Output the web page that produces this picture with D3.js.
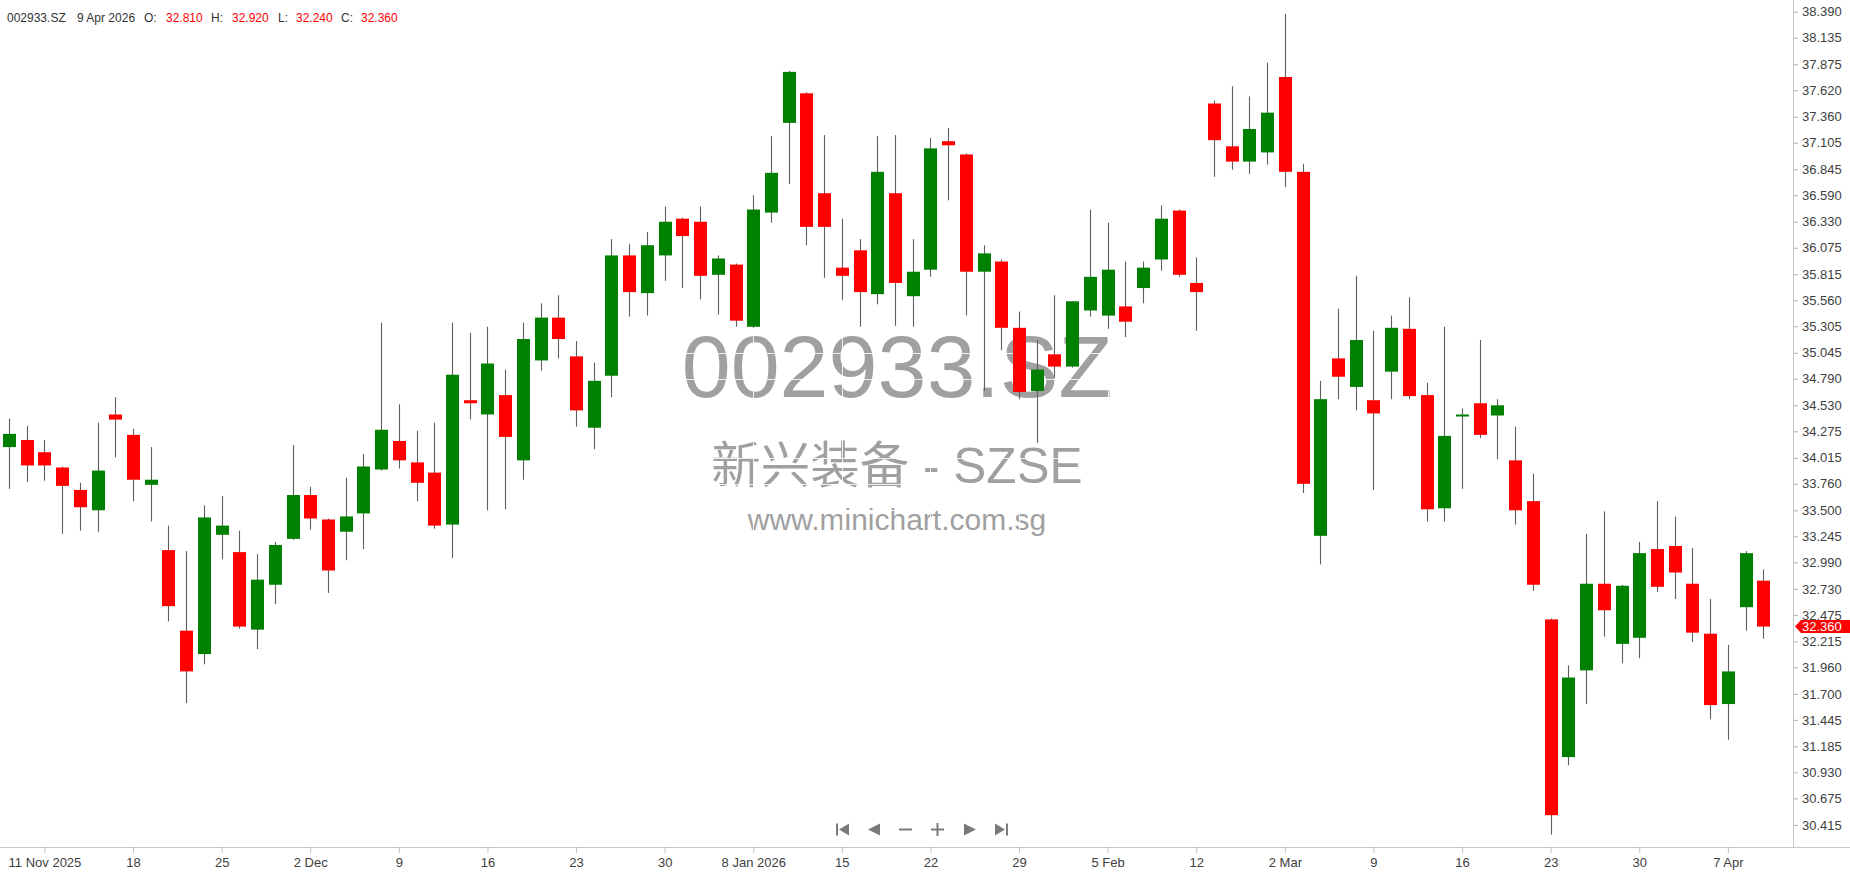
<!DOCTYPE html>
<html>
<head>
<meta charset="utf-8">
<script src="https://cdn.jsdelivr.net/npm/d3@7"></script>
<style>
  html, body { margin: 0; padding: 0; background: #ffffff; }
  svg { display: block; }
  text { font-family: "Liberation Sans", Arial, sans-serif; }
</style>
</head>
<body>
<div id="chart"></div>
<script>
// ---------------- data ----------------
const symbol = "002933.SZ";
const watermarkName = "新兴装备 - SZSE";
const watermarkSite = "www.minichart.com.sg";

const dates = [
  "2025-11-07","2025-11-10","2025-11-11","2025-11-12","2025-11-13","2025-11-14",
  "2025-11-17","2025-11-18","2025-11-19","2025-11-20","2025-11-21",
  "2025-11-24","2025-11-25","2025-11-26","2025-11-27","2025-11-28",
  "2025-12-01","2025-12-02","2025-12-03","2025-12-04","2025-12-05",
  "2025-12-08","2025-12-09","2025-12-10","2025-12-11","2025-12-12",
  "2025-12-15","2025-12-16","2025-12-17","2025-12-18","2025-12-19",
  "2025-12-22","2025-12-23","2025-12-24","2025-12-25","2025-12-26",
  "2025-12-29","2025-12-30","2025-12-31",
  "2026-01-05","2026-01-06","2026-01-07","2026-01-08","2026-01-09",
  "2026-01-12","2026-01-13","2026-01-14","2026-01-15","2026-01-16",
  "2026-01-19","2026-01-20","2026-01-21","2026-01-22","2026-01-23",
  "2026-01-26","2026-01-27","2026-01-28","2026-01-29","2026-01-30",
  "2026-02-02","2026-02-03","2026-02-04","2026-02-05","2026-02-06",
  "2026-02-09","2026-02-10","2026-02-11","2026-02-12","2026-02-13",
  "2026-02-25","2026-02-26","2026-02-27",
  "2026-03-02","2026-03-03","2026-03-04","2026-03-05","2026-03-06",
  "2026-03-09","2026-03-10","2026-03-11","2026-03-12","2026-03-13",
  "2026-03-16","2026-03-17","2026-03-18","2026-03-19","2026-03-20",
  "2026-03-23","2026-03-24","2026-03-25","2026-03-26","2026-03-27",
  "2026-03-30","2026-03-31",
  "2026-04-01","2026-04-02","2026-04-03","2026-04-07","2026-04-08","2026-04-09"
];

const opens = [
  34.12,34.19,34.07,33.92,33.70,33.50,34.44,34.24,33.75,33.11,
  32.32,32.09,33.26,33.09,32.33,32.77,33.22,33.65,33.41,33.29,
  33.47,33.90,34.18,33.97,33.87,33.36,34.58,34.44,34.63,33.99,
  34.97,35.39,35.01,34.31,34.82,36.00,35.63,36.00,36.36,36.33,
  35.81,35.91,35.30,36.42,37.30,37.59,36.61,35.88,36.05,35.62,
  36.61,35.60,35.86,37.12,36.99,35.84,35.94,35.29,34.67,35.03,
  34.91,35.46,35.41,35.50,35.68,35.96,36.44,35.73,37.49,37.07,
  36.92,37.01,37.75,36.82,33.25,34.99,34.71,34.58,34.86,35.28,
  34.63,33.52,34.42,34.55,34.43,33.99,33.59,32.43,31.08,31.93,
  32.78,32.19,32.25,33.12,33.15,32.78,32.29,31.60,32.55,32.81
];
const highs = [
  34.40,34.33,34.19,33.93,33.77,34.36,34.61,34.30,34.12,33.35,
  33.10,33.55,33.64,33.30,33.07,33.19,34.14,33.73,33.42,33.82,
  34.05,35.34,34.54,34.28,34.36,35.34,35.24,35.30,34.88,35.34,
  35.53,35.61,35.16,34.95,36.16,36.11,36.23,36.48,36.37,36.48,
  36.00,35.92,36.59,37.17,37.81,37.60,37.18,36.36,36.16,37.17,
  37.18,36.16,37.15,37.25,37.00,36.10,35.96,35.45,35.17,35.61,
  35.55,36.45,36.32,35.94,35.94,36.49,36.45,35.98,37.52,37.66,
  37.56,37.89,38.37,36.90,34.77,35.48,35.80,35.26,35.41,35.59,
  34.75,35.30,34.50,35.17,34.59,34.32,33.86,32.44,31.98,33.27,
  33.49,32.77,33.19,33.59,33.44,33.13,32.63,32.18,33.10,32.92
];
const lows = [
  33.71,33.78,33.79,33.27,33.30,33.29,34.02,33.59,33.39,32.41,
  31.61,31.99,33.02,32.34,32.14,32.58,33.21,33.31,32.69,33.01,
  33.12,33.89,33.91,33.59,33.32,33.03,34.39,33.50,33.51,33.80,
  34.87,34.99,34.32,34.10,34.61,35.40,35.41,35.75,35.68,35.57,
  35.42,35.30,35.29,36.32,36.70,36.10,35.78,35.56,35.30,35.52,
  35.31,35.30,35.79,36.54,35.41,34.67,35.07,34.59,34.16,34.80,
  34.90,35.40,35.28,35.20,35.53,35.85,35.79,35.26,36.77,36.84,
  36.80,36.89,36.67,33.67,32.97,34.59,34.48,33.70,34.59,34.59,
  33.39,33.39,33.71,34.21,34.00,33.36,32.71,30.32,31.00,31.60,
  32.26,32.00,32.05,32.70,32.63,32.21,31.45,31.25,32.32,32.24
];
const closes = [
  34.25,33.94,33.94,33.74,33.53,33.89,34.39,33.80,33.80,32.56,
  31.92,33.43,33.35,32.36,32.82,33.16,33.65,33.42,32.91,33.44,
  33.93,34.29,33.99,33.77,33.35,34.83,34.55,34.94,34.22,35.18,
  35.39,35.18,34.48,34.77,36.00,35.64,36.10,36.33,36.19,35.80,
  35.97,35.36,36.45,36.81,37.80,36.28,36.28,35.80,35.64,36.82,
  35.73,35.84,37.05,37.08,35.84,36.02,35.29,34.66,34.88,34.91,
  35.55,35.79,35.86,35.35,35.88,36.36,35.81,35.64,37.13,36.92,
  37.24,37.40,36.82,33.76,34.59,34.81,35.17,34.45,35.29,34.62,
  33.51,34.23,34.44,34.24,34.53,33.50,32.77,30.51,31.86,32.78,
  32.52,32.76,33.08,32.75,32.89,32.30,31.59,31.92,33.08,32.36
];

const yTickLabels = [
  "38.390","38.135","37.875","37.620","37.360","37.105","36.845","36.590",
  "36.330","36.075","35.815","35.560","35.305","35.045","34.790","34.530",
  "34.275","34.015","33.760","33.500","33.245","32.990","32.730","32.475",
  "32.215","31.960","31.700","31.445","31.185","30.930","30.675","30.415"
];
const xTickDates = [
  "2025-11-11","2025-11-18","2025-11-25","2025-12-02","2025-12-09","2025-12-16",
  "2025-12-23","2025-12-30","2026-01-08","2026-01-15","2026-01-22","2026-01-29",
  "2026-02-05","2026-02-12","2026-03-02","2026-03-09","2026-03-16","2026-03-23",
  "2026-03-30","2026-04-07"
];
const xTickLabels = [
  "11 Nov 2025","18","25","2 Dec","9","16","23","30","8 Jan 2026","15",
  "22","29","5 Feb","12","2 Mar","9","16","23","30","7 Apr"
];

// ---------------- layout ----------------
const W = 1850, H = 874;
const plotRight = 1793, plotBottom = 847;
const n = dates.length;

const svg = d3.select("#chart").append("svg")
  .attr("width", W).attr("height", H)
  .style("background", "#ffffff");

const x = d3.scaleLinear().domain([0, n - 1]).range([9, 9 + (n - 1) * 17.72]);
const y = d3.scaleLinear().domain([30.198, 38.505]).range([plotBottom, 0]);

// ---------------- watermark ----------------
const wm = svg.append("g").attr("fill", "#a0a0a0")
  .attr("text-anchor", "middle");
wm.append("text").attr("x", 897).attr("y", 397)
  .style("font-size", "88px").text(symbol);
wm.append("text").attr("x", 897).attr("y", 483)
  .style("font-family", "'Liberation Sans', Arial, 'Noto Sans CJK SC', sans-serif")
  .style("font-size", "49.5px").text(watermarkName);
wm.append("text").attr("x", 897).attr("y", 530)
  .style("font-size", "30px").text(watermarkSite);

// white grid lines (only visible over the watermark)
const tickIdx = xTickDates.map(d => dates.indexOf(d));
const grid = svg.append("g").attr("stroke", "#ffffff").attr("stroke-width", 1).attr("opacity", 0.85);
grid.selectAll("line.gy").data(yTickLabels).enter().append("line")
  .attr("x1", 0).attr("x2", plotRight)
  .attr("y1", d => Math.round(y(+d)) + 0.5).attr("y2", d => Math.round(y(+d)) + 0.5);
grid.selectAll("line.gx").data(tickIdx).enter().append("line")
  .attr("y1", 0).attr("y2", plotBottom)
  .attr("x1", d => Math.round(x(d)) + 0.5).attr("x2", d => Math.round(x(d)) + 0.5);

// ---------------- candles ----------------
const candles = d3.range(n).map(i => ({
  i, date: dates[i], o: opens[i], h: highs[i], l: lows[i], c: closes[i]
}));
const cg = svg.append("g");
cg.selectAll("line.wick").data(candles).enter().append("line")
  .attr("class", "wick")
  .attr("x1", d => Math.round(x(d.i)) + 0.5)
  .attr("x2", d => Math.round(x(d.i)) + 0.5)
  .attr("y1", d => y(d.h)).attr("y2", d => y(d.l))
  .attr("stroke", "#5f5f5f").attr("stroke-width", 1.1);
const bodyW = 13;
cg.selectAll("rect.body").data(candles).enter().append("rect")
  .attr("class", "body")
  .attr("x", d => Math.round(x(d.i)) + 0.5 - bodyW / 2)
  .attr("width", bodyW)
  .attr("y", d => Math.min(y(d.o), y(d.c)))
  .attr("height", d => Math.max(2, Math.abs(y(d.o) - y(d.c))))
  .attr("fill", d => d.c >= d.o ? "#008000" : "#ff0000");

// ---------------- axes ----------------
svg.append("line").attr("x1", plotRight + 0.5).attr("x2", plotRight + 0.5)
  .attr("y1", 0).attr("y2", plotBottom).attr("stroke", "#c8c8c8");
svg.append("line").attr("x1", 0).attr("x2", W)
  .attr("y1", plotBottom + 0.5).attr("y2", plotBottom + 0.5).attr("stroke", "#c8c8c8");

const yAxis = d3.axisRight(y)
  .tickValues(yTickLabels.map(Number))
  .tickFormat(d3.format(".3f"))
  .tickSize(4).tickPadding(4);
const yg = svg.append("g").attr("transform", `translate(${plotRight + 1},0)`).call(yAxis);
yg.select(".domain").remove();
yg.selectAll(".tick line").attr("stroke", "#b0b0b0");
yg.selectAll(".tick text").attr("fill", "#404040")
  .style("font-size", "13px").style("font-family", "'Liberation Sans', Arial, sans-serif");

const xAxis = d3.axisBottom(x)
  .tickValues(tickIdx)
  .tickFormat((d, i) => xTickLabels[i])
  .tickSize(6).tickPadding(5);
const xg = svg.append("g").attr("transform", `translate(0,${plotBottom})`).call(xAxis);
xg.select(".domain").remove();
xg.selectAll(".tick line").attr("stroke", "#c0c0c0");
xg.selectAll(".tick text").attr("fill", "#404040")
  .style("font-size", "13px").style("font-family", "'Liberation Sans', Arial, sans-serif");

// ---------------- last price marker ----------------
const last = candles[n - 1];
const ly = y(last.c);
svg.append("path")
  .attr("d", `M${plotRight + 2},${ly} L${plotRight + 8},${ly - 6.5} L${W},${ly - 6.5} L${W},${ly + 6.5} L${plotRight + 8},${ly + 6.5} Z`)
  .attr("fill", "#ff0000");
svg.append("text").attr("x", plotRight + 9).attr("y", ly + 4.5)
  .attr("fill", "#ffffff").style("font-size", "13px")
  .text(d3.format(".3f")(last.c));

// ---------------- header ----------------
const fmtHeaderDate = d3.timeFormat("%-d %b %Y");
const parse = d3.timeParse("%Y-%m-%d");
const hdr = svg.append("g").style("font-size", "12px");
const hdrItems = [
  {t: symbol, x: 7, c: "#333333"},
  {t: fmtHeaderDate(parse(last.date)), x: 77, c: "#333333"},
  {t: "O:", x: 144, c: "#333333"},
  {t: d3.format(".3f")(last.o), x: 166, c: "#ff0000"},
  {t: "H:", x: 211, c: "#333333"},
  {t: d3.format(".3f")(last.h), x: 232, c: "#ff0000"},
  {t: "L:", x: 278, c: "#333333"},
  {t: d3.format(".3f")(last.l), x: 296, c: "#ff0000"},
  {t: "C:", x: 341, c: "#333333"},
  {t: d3.format(".3f")(last.c), x: 361, c: "#ff0000"}
];
hdr.selectAll("text").data(hdrItems).enter().append("text")
  .attr("x", d => d.x).attr("y", 22).attr("fill", d => d.c).text(d => d.t);

// ---------------- navigation buttons ----------------
const nav = svg.append("g").attr("fill", "#7a7a7a");
const ny = 829.5;
nav.append("rect").attr("x", 836).attr("y", ny - 6).attr("width", 2).attr("height", 12);
nav.append("path").attr("d", `M849,${ny - 6} L849,${ny + 6} L839,${ny} Z`);
nav.append("path").attr("d", `M880,${ny - 6} L880,${ny + 6} L868,${ny} Z`);
nav.append("rect").attr("x", 899).attr("y", ny - 1).attr("width", 13).attr("height", 2);
nav.append("rect").attr("x", 931).attr("y", ny - 1).attr("width", 13).attr("height", 2);
nav.append("rect").attr("x", 936.5).attr("y", ny - 6.5).attr("width", 2).attr("height", 13);
nav.append("path").attr("d", `M964,${ny - 6} L964,${ny + 6} L976,${ny} Z`);
nav.append("path").attr("d", `M995,${ny - 6} L995,${ny + 6} L1005,${ny} Z`);
nav.append("rect").attr("x", 1006).attr("y", ny - 6).attr("width", 2).attr("height", 12);
</script>
</body>
</html>
